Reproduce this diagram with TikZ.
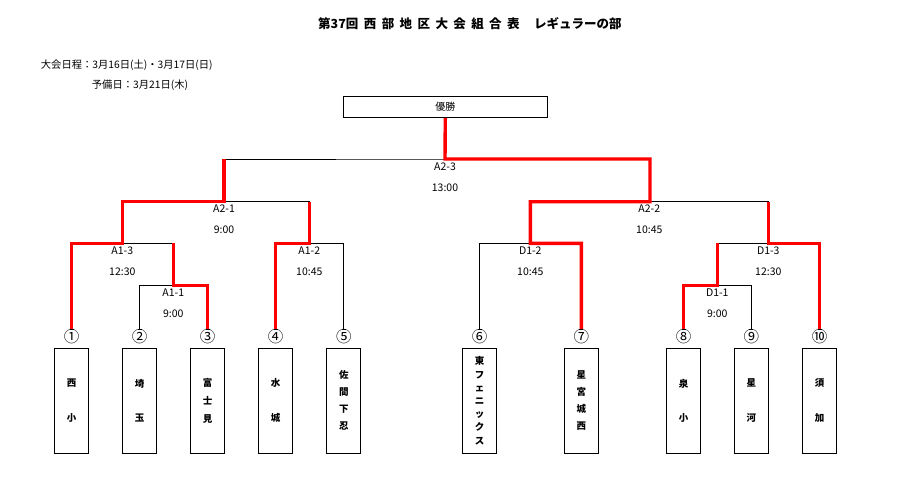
\documentclass[tikz,border=0pt]{standalone}
\usepackage{fontspec}
\setmainfont{Noto Sans CJK JP}
\begin{document}
\begin{tikzpicture}[x=1pt,y=-1pt,
  bline/.style={draw=black,line width=0.8pt},
  rline/.style={draw=red,line width=3.4pt},
  tickline/.style={draw=black,line width=1pt},
  team/.style={draw=black,line width=0.9pt,minimum width=34pt,minimum height=105pt,inner sep=0pt,align=center,font=\bfseries\fontsize{9.5}{#1}\selectfont},
  winbox/.style={draw=black,line width=0.9pt,minimum width=204pt,minimum height=21.3pt,inner sep=0pt,font=\fontsize{10}{12}\selectfont},
  num/.style={font=\fontsize{15.5}{17}\selectfont,inner sep=0pt},
  lab/.style={font=\fontsize{10.5}{12}\selectfont,inner sep=0pt},
  info/.style={anchor=west,font=\fontsize{10.3}{12}\selectfont,inner sep=0pt},
  ]
\fill[white] (0,0) rectangle (920,484);
\useasboundingbox (0,0) rectangle (920,484);

% title and dates
\node[anchor=west,font=\bfseries\fontsize{12.5}{14}\selectfont,inner sep=0pt] (title) at (318,23.3)
  {第37回\kern5.5pt西\kern5.4pt部\kern5.4pt地\kern5.4pt区\kern5.4pt大\kern5.4pt会\kern5.4pt組\kern5.4pt合\kern5.4pt表\hspace{14.5pt}レギュラーの部};
\node[info] (sched1) at (40.7,65) {大会日程：3月16日(土)・3月17日(日)};
\node[info] (sched2) at (91.7,85) {予備日：3月21日(木)};

% winner box
\node[winbox] (win) at (445.3,106.7) {優勝};

% team boxes
\node[team=34.6] (t1) at (71.5,400.7) {西\\小};
\node[team=34.6] (t2) at (139.5,400.7) {埼\\玉};
\node[team=18] (t3) at (207.5,400.7) {富\\士\\見};
\node[team=34.6] (t4) at (275.5,400.7) {水\\城};
\node[team=17] (t5) at (343.8,400.7) {佐\\間\\下\\忍};
\node[team=13.2] (t6) at (479.7,400.7) {東\\フ\\ェ\\ニ\\ッ\\ク\\ス};
\node[team=17] (t7) at (581.3,400.7) {星\\宮\\城\\西};
\node[team=34.6] (t8) at (683.7,400.7) {泉\\小};
\node[team=34.6] (t9) at (751.3,400.7) {星\\河};
\node[team=34.6] (t10) at (819.7,400.7) {須\\加};

% seed numbers
\node[num] (n1) at (71.5,337) {①};
\node[num] (n2) at (139.5,337) {②};
\node[num] (n3) at (207.5,337) {③};
\node[num] (n4) at (275.5,337) {④};
\node[num] (n5) at (343.8,337) {⑤};
\node[num] (n6) at (479.7,337) {⑥};
\node[num] (n7) at (581.3,337) {⑦};
\node[num] (n8) at (683.7,337) {⑧};
\node[num] (n9) at (751.3,337) {⑨};
\node[num] (n10) at (819.7,337) {⑩};

% leaf ends
\coordinate (L1) at (71.5,329);
\coordinate (L2) at (139.5,329);
\coordinate (L3) at (207.5,329);
\coordinate (L4) at (275.5,329);
\coordinate (L5) at (343.8,329);
\coordinate (L6) at (479.7,329);
\coordinate (L7) at (581.3,329);
\coordinate (L8) at (683.7,329);
\coordinate (L9) at (751.3,329);
\coordinate (L10) at (819.7,329);

% match points
\coordinate (A11) at (173.3,285.7);
\coordinate (A13) at (122.5,243.3);
\coordinate (A12) at (309.3,243.3);
\coordinate (A21) at (224,201.7);
\coordinate (A23) at (445,159);
\coordinate (A22) at (650,201.7);
\coordinate (D12) at (530.3,243.3);
\coordinate (D11) at (717.5,285.7);
\coordinate (D13) at (768.3,243.3);

% black bracket
\draw[bline] (L2) |- (A11) -| (L3);
\draw[bline] (L1) |- (A13) -| (A11);
\draw[bline] (L4) |- (A12) -| (L5);
\draw[bline] (A13) |- (A21) -| (A12);
\draw[bline] (A21) |- (A23) -| (A22);
\draw[bline] (D12) |- (A22) -| (D13);
\draw[bline] (L6) |- (D12) -| (L7);
\draw[bline] (L8) |- (D11) -| (L9);
\draw[bline] (D11) |- (D13) -| (L10);
\draw[bline] (A23) -- (win.south);

% red winner paths
\draw[rline] (L1) |- (A13) |- (A21) -- (A21 |- A23);
\draw[rline] (L3) |- (A11) -- (A11 |- A13);
\draw[rline] (L4) |- (A12) -- (A12 |- A21);
\draw[rline] (L7) |- (D12) |- (A22) |- (A23) -- (win.south);
\draw[rline] (L8) |- (D11) -- (D11 |- D13);
\draw[rline] (L10) |- (D13) -- (D13 |- A22);

% small ticks at leaf ends
\foreach \i in {1,...,10} {
  \draw[tickline] ([xshift=-2pt]L\i) -- ([xshift=2pt]L\i);
}

% match labels
\node[lab] (lA23) at (445,166.7) {A2-3};
\node[lab] (tA23) at (445,187.3) {13:00};
\node[lab] (lA21) at (224,208.3) {A2-1};
\node[lab] (tA21) at (224,229.3) {9:00};
\node[lab] (lA22) at (649.3,208.3) {A2-2};
\node[lab] (tA22) at (649.3,229.3) {10:45};
\node[lab] (lA13) at (122.3,251) {A1-3};
\node[lab] (tA13) at (122.3,271.7) {12:30};
\node[lab] (lA12) at (309.3,251) {A1-2};
\node[lab] (tA12) at (309.3,271.7) {10:45};
\node[lab] (lA11) at (173.3,292.3) {A1-1};
\node[lab] (tA11) at (173.3,313.3) {9:00};
\node[lab] (lD12) at (530.3,251) {D1-2};
\node[lab] (tD12) at (530.3,271.7) {10:45};
\node[lab] (lD13) at (768.3,251) {D1-3};
\node[lab] (tD13) at (768.3,271.7) {12:30};
\node[lab] (lD11) at (717.3,292.3) {D1-1};
\node[lab] (tD11) at (717.3,313.3) {9:00};
\end{tikzpicture}
\end{document}
